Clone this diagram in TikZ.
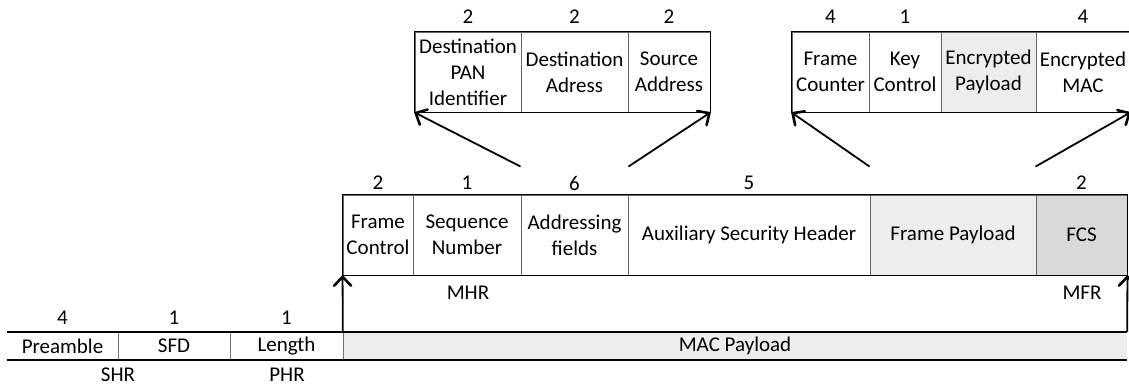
\documentclass[tikz,border=0pt]{standalone}
\usepackage{fontspec}
\setmainfont{Carlito}
\usepackage{tikz}
\usetikzlibrary{arrows.meta,calc,positioning}
\newcommand\fieldfont{\fontsize{21}{26}\selectfont}
\tikzstyle{arrow} = [draw, line width=1.8pt, -{Straight Barb[length=9pt,width=17pt,line width=2.6pt,round]}]
\tikzstyle{field} = [rectangle, draw=black!60, line width=0.9pt, minimum height=80pt, inner sep=0pt, align=center, font=\fieldfont]
\tikzstyle{cell} = [rectangle, minimum height=28pt, inner sep=0pt, font=\fieldfont]
\tikzstyle{num} = [inner sep=0pt, font=\fieldfont]
\tikzstyle{border} = [draw, line width=1.8pt]
\tikzstyle{divider} = [draw=black!55, line width=0.9pt]
\colorlet{lightfill}{black!7}
\colorlet{darkfill}{black!15}

\begin{document}
\begin{tikzpicture}[x=1pt, y=-1pt]
    \useasboundingbox (0,0) rectangle (1129,385);

    % MAC frame
    \node [field, minimum width=70pt] at (378,235) (fc) {Frame\\Control};
    \node [field, minimum width=108pt] at (467,235) (sn) {Sequence\\Number};
    \node [field, minimum width=107pt] at (574.5,235) (af) {Addressing\\fields};
    \node [field, minimum width=242pt] at (749,235) (ash) {Auxiliary Security Header};
    \node [field, fill=lightfill, minimum width=166pt] at (953,235) (fp) {Frame Payload};
    \node [field, fill=darkfill, minimum width=91pt] at (1081.5,235) (fcs) {FCS};
    \draw [border] (fc.north west) rectangle (fcs.south east);
    \node [num] at (378,183) (fcn) {2};
    \node [num] at (467,183) (snn) {1};
    \node [num] at (574.5,183) (afn) {6};
    \node [num] at (749,183) (ashn) {5};
    \node [num] at (1081.5,183) (fcsn) {2};
    \node [num] at (468,293) (mhr) {MHR};
    \node [num] at (1082,293) (mfr) {MFR};

    % addressing fields
    \node [field, minimum width=106pt] at (468,72) (dpan) {Destination\\PAN\\Identifier};
    \node [field, minimum width=107pt] at (574.5,72) (dad) {Destination\\Adress};
    \node [field, minimum width=82pt] at (669,72) (sad) {Source\\Address};
    \draw [border] (dpan.north west) rectangle (sad.south east);
    \node [num] at (468,17) (dpann) {2};
    \node [num] at (574.5,17) (dadn) {2};
    \node [num] at (669,17) (sadn) {2};

    % security fields
    \node [field, minimum width=77pt] at (830.5,72) (fcnt) {Frame\\Counter};
    \node [field, minimum width=72pt] at (905,72) (kc) {Key\\Control};
    \node [field, fill=lightfill, minimum width=95pt] at (988.5,72) (ep) {Encrypted\\Payload};
    \node [field, minimum width=94pt] at (1083,72) (em) {Encrypted\\MAC};
    \draw [border] (fcnt.north west) rectangle (em.south east);
    \node [num] at (830.5,17) (fcntn) {4};
    \node [num] at (905,17) (kcn) {1};
    \node [num] at (1083,17) (emn) {4};

    % PHY frame
    \node [cell, minimum width=111pt] at (62.5,346) (pre) {Preamble};
    \node [cell, minimum width=112pt] at (174,346) (sfd) {SFD};
    \node [cell, minimum width=113pt] at (286.5,346) (len) {Length};
    \node [cell, fill=lightfill, minimum width=784pt] at (735,346) (macp) {MAC Payload};
    \path [divider] (pre.north east) -- (pre.south east);
    \path [divider] (sfd.north east) -- (sfd.south east);
    \path [divider] (len.north east) -- (len.south east);
    \draw [border] (pre.north west) -- (macp.north east);
    \draw [border] (pre.south west) -- (macp.south east);
    \node [num] at (62.5,318) (pren) {4};
    \node [num] at (174,318) (sfdn) {1};
    \node [num] at (286.5,318) (lenn) {1};
    \node [num] at (118,375) (shr) {SHR};
    \node [num] at (287,375) (phr) {PHR};

    % arrows
    \path [arrow] (macp.north west) -- (fc.south west);
    \path [arrow] (macp.north east) -- (fcs.south east);
    \path [arrow] ($(af.north west)+(0,-28)$) -- (dpan.south west);
    \path [arrow] ($(af.north east)+(0,-28)$) -- (sad.south east);
    \path [arrow] ($(fp.north west)+(0,-28)$) -- (fcnt.south west);
    \path [arrow] ($(fcs.north west)+(0,-28)$) -- (em.south east);
\end{tikzpicture}
\end{document}
